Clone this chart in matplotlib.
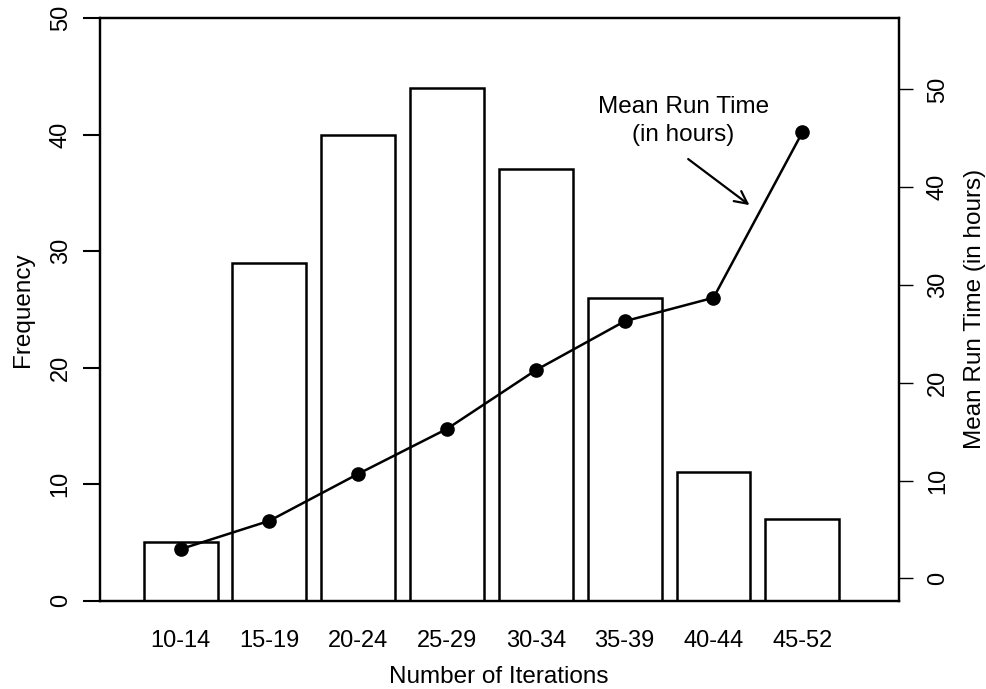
import matplotlib

matplotlib.use("Agg")
import matplotlib.pyplot as plt
import numpy as np

plt.rcParams["font.family"] = ["Liberation Sans", "DejaVu Sans"]

# Iteration-count classes, how many runs fell in each, and the mean run time
iter_classes = ["10-14", "15-19", "20-24", "25-29", "30-34", "35-39", "40-44", "45-52"]
frequency = [5, 29, 40, 44, 37, 26, 11, 7]
mean_hours = [3.0, 5.9, 10.7, 15.3, 21.3, 26.3, 28.7, 45.6]

freq_ticks = [0, 10, 20, 30, 40, 50]
hour_ticks = [0, 10, 20, 30, 40, 50]

FS = 17.5
W, H = 987, 689
fig = plt.figure(figsize=(W / 100, H / 100), dpi=100)
ax = fig.add_axes([99.5 / W, (H - 600.5) / H, (899 - 99.5) / W, (600.5 - 18) / H])

x = np.arange(len(iter_classes))
ax.bar(x, frequency, width=0.833, color="white", edgecolor="black", linewidth=1.8)
ax.set_xlim(-0.914, 8.089)
ax.set_ylim(0, 50)

ax.set_xticks(x)
ax.set_xticklabels(iter_classes, fontsize=17)
ax.tick_params(axis="x", length=0, pad=21)
ax.set_yticks(freq_ticks)
ax.set_yticklabels([str(t) for t in freq_ticks], rotation=90, va="center", fontsize=17)
ax.tick_params(axis="y", length=12, width=1.5, pad=8)
ax.set_xlabel("Number of Iterations", fontsize=FS, labelpad=10)
ax.set_ylabel("Frequency", fontsize=FS, labelpad=11)
for s in ax.spines.values():
    s.set_linewidth(1.6)

# mean run time on its own scale at the right
ax2 = ax.twinx()
ax2.plot(x, mean_hours, color="black", linewidth=1.8, marker="o", markersize=9.5)
ax2.set_ylim(-2.25, 57.3)
ax2.set_yticks(hour_ticks)
ax2.set_yticklabels([str(t) for t in hour_ticks], rotation=90, va="center", fontsize=17)
ax2.tick_params(axis="y", length=10, width=1.0, pad=10)
ax2.set_ylabel("Mean Run Time (in hours)", fontsize=FS, labelpad=11)
for s in ax2.spines.values():
    s.set_linewidth(1.6)

ax2.text(5.66, 46.8, "Mean Run Time\n(in hours)", ha="center", va="center",
         fontsize=FS, linespacing=1.35)
ax2.annotate("", xy=(6.43, 38.0), xytext=(5.69, 43.05),
             arrowprops=dict(arrowstyle="->,head_length=0.9,head_width=0.45",
                             color="black", linewidth=1.6))

fig.savefig("out.png", dpi=100)
